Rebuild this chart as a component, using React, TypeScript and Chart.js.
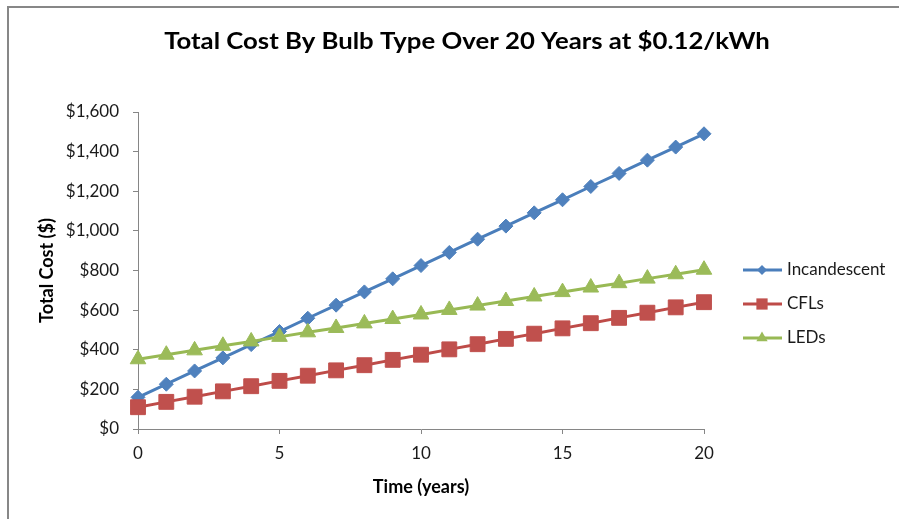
import React, { useEffect, useRef } from "react";
import { Chart, registerables } from "chart.js";

Chart.register(...registerables);

const years = [0, 1, 2, 3, 4, 5, 6, 7, 8, 9, 10, 11, 12, 13, 14, 15, 16, 17, 18, 19, 20];
const incandescent = [160, 226, 293, 359, 426, 492, 559, 625, 692, 758, 825, 891, 958, 1024, 1091, 1157, 1224, 1290, 1357, 1423, 1490];
const cfls = [110, 137, 163, 190, 216, 243, 269, 296, 322, 349, 375, 402, 428, 455, 481, 508, 534, 561, 587, 614, 640];
const leds = [352, 375, 397, 420, 442, 465, 488, 510, 533, 555, 578, 601, 623, 646, 669, 691, 714, 736, 759, 781, 804];
const yTickValues = [0, 200, 400, 600, 800, 1000, 1200, 1400, 1600];
const xTickValues = [0, 5, 10, 15, 20];

const chartTitle = "Total Cost By Bulb Type Over 20 Years at $0.12/kWh";
const xTitle = "Time (years)";
const yTitle = "Total Cost ($)";
const seriesNames = ["Incandescent", "CFLs", "LEDs"];

const FONT = "Lato, 'Open Sans', sans-serif";
const AXIS = "#868686";
const TEXT = "#1a1a1a";

const seriesStyle = [
  { line: "#4A7EBB", fill: "#4F81BD", point: "rectRot", radius: 7 },
  { line: "#BE4B48", fill: "#C0504D", point: "rect", radius: 10.5 },
  { line: "#98B954", fill: "#9BBB59", point: "triangle", radius: 9 },
];

const overlayPlugin = {
  id: "overlay",
  afterDraw(chart: any) {
    const ctx = chart.ctx;
    ctx.save();
    // title (slightly widened to match the reference's letter shapes)
    ctx.save();
    ctx.translate(467, 42);
    ctx.scale(1.17, 1);
    ctx.fillStyle = "#000";
    ctx.font = `bold 22px ${FONT}`;
    ctx.textAlign = "center";
    ctx.textBaseline = "middle";
    ctx.fillText(chartTitle, 0, 0);
    ctx.restore();

    // legend
    const rows = [270, 304, 338];
    chart.data.datasets.forEach((ds: any, i: number) => {
      const st = seriesStyle[i];
      const y = rows[i];
      ctx.strokeStyle = st.line;
      ctx.lineWidth = 3;
      ctx.beginPath();
      ctx.moveTo(743, y);
      ctx.lineTo(782, y);
      ctx.stroke();
      const r = i === 0 ? 5 : i === 1 ? 7.5 : 6.5;
      ctx.fillStyle = st.fill;
      ctx.beginPath();
      if (i === 0) {
        ctx.moveTo(762 - r, y);
        ctx.lineTo(762, y - r);
        ctx.lineTo(762 + r, y);
        ctx.lineTo(762, y + r);
      } else if (i === 1) {
        const s = r * 0.75;
        ctx.rect(762 - s, y - s, 2 * s, 2 * s);
      } else {
        ctx.moveTo(762, y - r);
        ctx.lineTo(762 + r * 0.87, y + r * 0.5);
        ctx.lineTo(762 - r * 0.87, y + r * 0.5);
      }
      ctx.closePath();
      ctx.fill();
      ctx.fillStyle = TEXT;
      ctx.font = `17px ${FONT}`;
      ctx.textAlign = "left";
      ctx.textBaseline = "middle";
      ctx.fillText(ds.label, 787, y);
    });
    ctx.restore();
  },
};

export default function App() {
  const ref = useRef<HTMLCanvasElement>(null);

  useEffect(() => {
    if (!ref.current) return;
    const series = [incandescent, cfls, leds];
    const chart = new Chart(ref.current, {
      type: "line",
      data: {
        datasets: series.map((vals, i) => ({
          label: seriesNames[i],
          data: years.map((x, j) => ({ x, y: vals[j] })),
          borderColor: seriesStyle[i].line,
          backgroundColor: seriesStyle[i].fill,
          pointBackgroundColor: seriesStyle[i].fill,
          pointBorderColor: seriesStyle[i].fill,
          pointBorderWidth: 1,
          pointStyle: seriesStyle[i].point as any,
          pointRadius: seriesStyle[i].radius,
          borderWidth: 3,
          tension: 0,
          clip: false as any,
          order: 2 - i,
        })),
      },
      options: {
        responsive: false,
        animation: false,
        devicePixelRatio: 1,
        layout: { padding: { top: 112, right: 195, left: 0, bottom: 0 } },
        plugins: {
          legend: { display: false },
          title: { display: false },
          tooltip: { enabled: false },
        },
        scales: {
          x: {
            type: "linear",
            min: 0,
            max: 20,
            afterBuildTicks: (s: any) => {
              s.ticks = xTickValues.map((v) => ({ value: v }));
            },
            afterFit: (s: any) => {
              s.height = 90;
            },
            grid: { drawOnChartArea: false, color: AXIS, tickLength: 5 },
            border: { color: AXIS, width: 1 },
            ticks: {
              color: TEXT,
              font: { family: FONT, size: 17 },
              padding: 9,
              maxRotation: 0,
            },
            title: {
              display: true,
              text: xTitle,
              color: "#000",
              font: { family: FONT, size: 18, weight: "bold" },
              padding: { top: 0, bottom: 21 },
            },
          },
          y: {
            type: "linear",
            min: 0,
            max: 1600,
            afterBuildTicks: (s: any) => {
              s.ticks = yTickValues.map((v) => ({ value: v }));
            },
            afterFit: (s: any) => {
              s.width = 138;
            },
            grid: { drawOnChartArea: false, color: AXIS, tickLength: 5 },
            border: { color: AXIS, width: 1 },
            ticks: {
              color: TEXT,
              font: { family: FONT, size: 17 },
              padding: 14,
              callback: (v: any) => "$" + Number(v).toLocaleString("en-US"),
            },
            title: {
              display: true,
              text: yTitle,
              color: "#000",
              font: { family: FONT, size: 18, weight: "bold" },
              padding: { top: 36, bottom: 0 },
            },
          },
        },
      },
      plugins: [overlayPlugin],
    });
    return () => chart.destroy();
  }, []);

  return (
    <div style={{ position: "fixed", left: 0, top: 0, width: 899, height: 519, background: "#fff", overflow: "hidden" }}>
      <div
        style={{
          position: "absolute",
          left: 7,
          top: 6,
          width: 1000,
          height: 1000,
          borderLeft: "2px solid #878787",
          borderTop: "2px solid #878787",
        }}
      />
      <canvas ref={ref} width={899} height={519} style={{ position: "absolute", left: 0, top: 0, width: 899, height: 519 }} />
    </div>
  );
}
